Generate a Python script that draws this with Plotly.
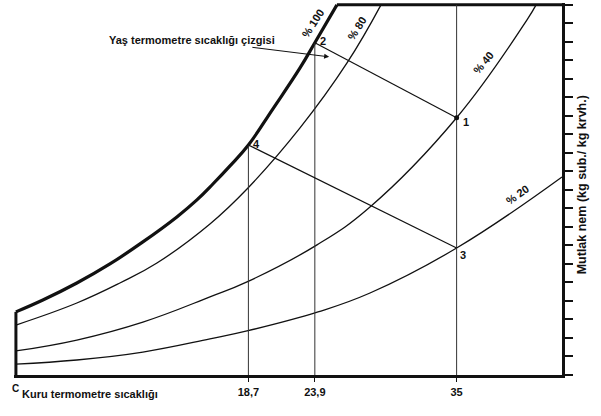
import plotly.graph_objects as go

# ---- axis / tick data ----
DRY_BULB_TICKS = [18.7, 23.9, 35]
DRY_BULB_LABELS = ["18,7", "23,9", "35"]
T_MIN, T_MAX = 0.5, 43.25
W_TOP = 20
HUMIDITY_TICKS = list(range(0, 21))

# ---- relative humidity curves (dry bulb T, absolute humidity W) ----
RH100_T = [0.5, 2.61, 5.27, 7.86, 10.44, 13.10, 14.67, 15.92, 17.26, 18.7, 20.62, 22.74, 23.9, 25.63]
RH100_W = [3.41, 4.05, 4.97, 6.00, 7.19, 8.54, 9.46, 10.32, 11.30, 12.43, 14.38, 16.59, 17.95, 20.0]

RH80_T = [0.5, 5.27, 8.64, 11.54, 15.69, 18.59, 22.74, 26.42, 29.08]
RH80_W = [2.70, 3.89, 4.97, 6.05, 8.16, 10.05, 13.35, 16.86, 20.0]

RH40_T = [0.5, 5.27, 10.44, 15.69, 18.59, 24.07, 28.22, 35.0, 40.51, 41.22]
RH40_W = [1.30, 1.89, 2.86, 4.22, 5.03, 7.03, 9.08, 13.9, 19.19, 20.0]

RH20_T = [0.5, 5.27, 10.44, 15.69, 18.59, 24.15, 28.22, 35.0, 43.25]
RH20_W = [0.59, 0.81, 1.24, 1.95, 2.38, 3.41, 4.43, 6.86, 10.70]

# ---- state points ----
STATE_NAMES = ["1", "2", "3", "4"]
STATE_T = [35, 23.9, 35, 18.7]
STATE_W = [13.9, 17.95, 6.86, 12.43]

FONT = "Liberation Sans, Arial, sans-serif"
BLACK = "#111111"

fig = go.Figure()

def line(x, y, width, color=BLACK, shape="linear"):
    ln = dict(color=color, width=width, shape=shape)
    if shape == "spline":
        ln["smoothing"] = 1.2
    fig.add_trace(go.Scatter(x=x, y=y, mode="lines", hoverinfo="skip",
                             line=ln, showlegend=False))

# thick boundary: left edge, saturation curve, top edge
line([T_MIN, T_MIN], [0, RH100_W[0]], 3)
line(RH100_T, RH100_W, 3.2, shape="spline")
line([RH100_T[-1], T_MAX], [W_TOP, W_TOP], 3)

# other RH curves
line(RH80_T, RH80_W, 1.3, shape="spline")
line(RH40_T, RH40_W, 1.3, shape="spline")
line(RH20_T, RH20_W, 1.3, shape="spline")

# vertical dry-bulb lines
s = dict(zip(STATE_NAMES, zip(STATE_T, STATE_W)))
line([s["4"][0], s["4"][0]], [0, s["4"][1]], 1, "#333333")
line([s["2"][0], s["2"][0]], [0, s["2"][1]], 1, "#333333")
line([s["1"][0], s["1"][0]], [0, W_TOP], 1, "#333333")

# wet-bulb lines
line([s["4"][0], s["3"][0]], [s["4"][1], s["3"][1]], 1.2)
line([s["2"][0], s["1"][0]], [s["2"][1], s["1"][1]], 1.2)

# dot at state 1
fig.add_trace(go.Scatter(x=[s["1"][0]], y=[s["1"][1]], mode="markers",
                         marker=dict(color=BLACK, size=5), hoverinfo="skip",
                         showlegend=False))

ann = []
lab_font = dict(family=FONT, size=11, color=BLACK, weight="bold")
shifts = {"1": (9, -4), "2": (8, 2), "3": (6, -7), "4": (8, 1)}
for name in STATE_NAMES:
    t, w = s[name]
    dx, dy = shifts[name]
    ann.append(dict(x=t, y=w, text=name, showarrow=False, xshift=dx, yshift=dy,
                    font=lab_font))

curve_font = dict(family=FONT, size=11, color=BLACK, weight="bold")
for text, x, y, ang in [("% 100", 23.75, 19.03, -57), ("% 80", 27.2, 18.76, -57),
                        ("% 40", 37.07, 16.86, -50), ("% 20", 39.73, 9.73, -35)]:
    ann.append(dict(x=x, y=y, text=text, textangle=ang, showarrow=False,
                    font=curve_font))

# wet-bulb label with leader arrow
ann.append(dict(x=25.02, y=17.19, ax=14.28, ay=18.11, axref="x", ayref="y",
                text="Yaş termometre sıcaklığı çizgisi", showarrow=True,
                arrowhead=2, arrowsize=1, arrowwidth=1, arrowcolor=BLACK,
                standoff=0, font=dict(family=FONT, size=11, color=BLACK, weight="bold")))

ann.append(dict(x=T_MIN, y=0, text="C", showarrow=False, yshift=-13,
                font=dict(family=FONT, size=10, color=BLACK, weight="bold")))
ann.append(dict(xref="paper", yref="paper", x=0.011, y=-0.0726, xanchor="left",
                text="Kuru termometre sıcaklığı", showarrow=False,
                font=dict(family=FONT, size=11, color=BLACK, weight="bold")))
ann.append(dict(xref="paper", yref="paper", x=1.053, y=0.51, textangle=-90,
                text="Mutlak nem (kg sub./ kg krvh.)", showarrow=False,
                font=dict(family=FONT, size=12.5, color=BLACK, weight="bold")))

fig.update_layout(
    width=601, height=416,
    margin=dict(l=14, r=39, t=3, b=41),
    paper_bgcolor="white", plot_bgcolor="white",
    annotations=ann,
    xaxis=dict(range=[0.35, T_MAX], showgrid=False, zeroline=False,
               showline=True, linewidth=3, linecolor=BLACK,
               tickmode="array", tickvals=DRY_BULB_TICKS, ticktext=DRY_BULB_LABELS,
               ticks="outside", ticklen=4, tickwidth=1, tickcolor=BLACK,
               ticklabelstandoff=1,
               tickfont=dict(family=FONT, size=11, color=BLACK, weight="bold")),
    yaxis=dict(range=[0, 20.1], side="right", showgrid=False, zeroline=False,
               showline=True, linewidth=3, linecolor=BLACK,
               tickmode="array", tickvals=HUMIDITY_TICKS, showticklabels=False,
               ticks="outside", ticklen=8, tickwidth=2, tickcolor=BLACK),
)

fig.write_html("out.html", config={"displayModeBar": False},
               post_script="document.body.style.margin='0px';document.body.style.padding='0px';")
